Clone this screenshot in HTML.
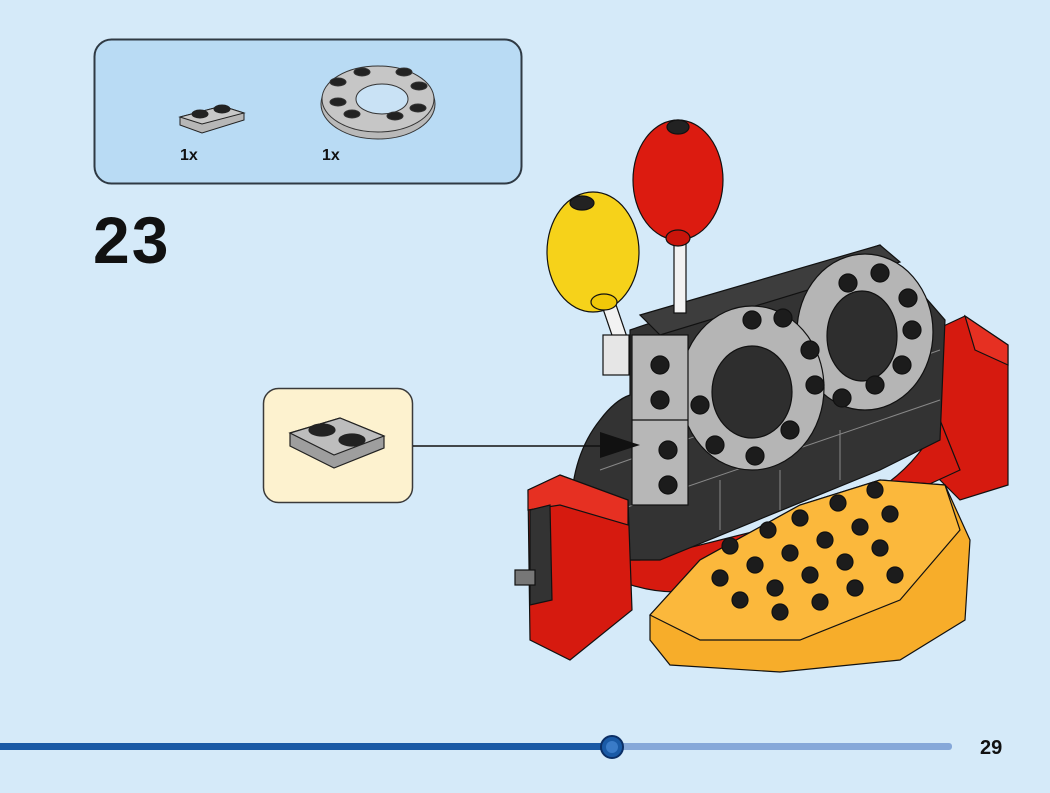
<!DOCTYPE html>
<html><head><meta charset="utf-8"><style>
html,body{margin:0;padding:0;width:1050px;height:793px;overflow:hidden;background:#d5eaf9;font-family:"Liberation Sans",sans-serif}
</style></head><body>
<svg width="1050" height="793" viewBox="0 0 1050 793" xmlns="http://www.w3.org/2000/svg">
<rect width="1050" height="793" fill="#d5eaf9"/>
<!-- parts box -->
<rect x="94.5" y="39.5" width="427" height="144" rx="17" fill="#b9dbf4" stroke="#2f3a44" stroke-width="2"/>
<g stroke="#222" stroke-width="1">
<polygon points="180,117 222,106 244,113 244,120 202,133 180,125" fill="#b7b7b7"/>
<polygon points="180,117 222,106 244,113 202,124" fill="#c8c8c8"/>
<ellipse cx="200" cy="114" rx="8" ry="4" fill="#222"/><ellipse cx="222" cy="109" rx="8" ry="4" fill="#222"/>
</g>
<g stroke="#333" stroke-width="1">
<ellipse cx="378" cy="104" rx="57" ry="35" fill="#b9b9b9"/>
<ellipse cx="378" cy="99" rx="56" ry="33" fill="#c6c6c6"/>
<ellipse cx="382" cy="99" rx="26" ry="15" fill="#c9e2f5"/>
<g fill="#222">
<ellipse cx="362" cy="72" rx="8" ry="4"/><ellipse cx="404" cy="72" rx="8" ry="4"/>
<ellipse cx="338" cy="82" rx="8" ry="4"/><ellipse cx="419" cy="86" rx="8" ry="4"/>
<ellipse cx="338" cy="102" rx="8" ry="4"/><ellipse cx="418" cy="108" rx="8" ry="4"/>
<ellipse cx="352" cy="114" rx="8" ry="4"/><ellipse cx="395" cy="116" rx="8" ry="4"/>
</g></g>
<text x="180" y="160" font-size="16" font-weight="bold" fill="#111">1x</text>
<text x="322" y="160" font-size="16" font-weight="bold" fill="#111">1x</text>
<text x="93" y="263" font-size="66" font-weight="bold" fill="#111" letter-spacing="2">23</text>
<!-- callout -->
<rect x="263.5" y="388.5" width="149" height="114" rx="15" fill="#fdf2cf" stroke="#3a3a3a" stroke-width="1.5"/>
<g stroke="#222" stroke-width="1.2">
<polygon points="290,433 340,418 384,436 384,448 334,468 290,446" fill="#9e9e9e"/>
<polygon points="290,433 340,418 384,436 334,455" fill="#bdbdbd"/>
<ellipse cx="322" cy="430" rx="13" ry="6" fill="#222"/><ellipse cx="352" cy="440" rx="13" ry="6" fill="#222"/>
</g>
<!-- model -->
<g stroke="#111" stroke-width="1.2">
<!-- right red -->
<polygon points="935,330 965,316 1008,345 1008,485 960,500 930,470" fill="#d61a0f"/>
<polygon points="965,316 1008,345 1008,365 975,350" fill="#e63022"/>
<!-- red curve under body -->
<path d="M580,560 Q640,600 700,590 L960,470 L940,420 Q900,500 800,520 L640,560 Z" fill="#d61a0f"/>
<!-- dark body -->
<path d="M630,330 L880,245 L945,320 L940,440 L880,470 L660,560 L575,560 Q560,470 600,420 Q615,400 630,395 Z" fill="#333"/>
<polygon points="640,315 880,245 900,262 660,335" fill="#3d3d3d"/>
<g stroke="#888" stroke-width="1" fill="none">
<line x1="575" y1="525" x2="940" y2="400"/><line x1="600" y1="470" x2="940" y2="350"/>
<line x1="610" y1="505" x2="610" y2="560"/><line x1="720" y1="480" x2="720" y2="530"/><line x1="780" y1="470" x2="780" y2="510"/><line x1="840" y1="430" x2="840" y2="480"/>
</g>
<!-- sticks -->
<rect x="674" y="238" width="12" height="75" fill="#f2f2f2"/>
<polygon points="600,300 613,296 628,340 615,344" fill="#f2f2f2"/>
<rect x="603" y="335" width="26" height="40" fill="#e6e6e6"/>
<!-- balloons -->
<ellipse cx="678" cy="180" rx="45" ry="60" fill="#dc1b10"/>
<ellipse cx="678" cy="127" rx="11" ry="7" fill="#222"/>
<ellipse cx="678" cy="238" rx="12" ry="8" fill="#c9140a"/>
<ellipse cx="593" cy="252" rx="46" ry="60" fill="#f6d21a"/>
<ellipse cx="582" cy="203" rx="12" ry="7" fill="#222"/>
<ellipse cx="604" cy="302" rx="13" ry="8" fill="#f0c808"/>
<!-- rings -->
<ellipse cx="865" cy="332" rx="68" ry="78" fill="#b5b5b5"/>
<ellipse cx="862" cy="336" rx="35" ry="45" fill="#2e2e2e"/>
<ellipse cx="752" cy="388" rx="72" ry="82" fill="#b5b5b5"/>
<ellipse cx="752" cy="392" rx="40" ry="46" fill="#2e2e2e"/>
<g fill="#1c1c1c">
<circle cx="848" cy="283" r="9"/><circle cx="880" cy="273" r="9"/><circle cx="908" cy="298" r="9"/><circle cx="912" cy="330" r="9"/><circle cx="902" cy="365" r="9"/><circle cx="875" cy="385" r="9"/><circle cx="842" cy="398" r="9"/>
<circle cx="752" cy="320" r="9"/><circle cx="783" cy="318" r="9"/><circle cx="810" cy="350" r="9"/><circle cx="815" cy="385" r="9"/><circle cx="790" cy="430" r="9"/><circle cx="755" cy="456" r="9"/><circle cx="715" cy="445" r="9"/><circle cx="700" cy="405" r="9"/>
</g>
<!-- gray plate -->
<rect x="632" y="335" width="56" height="170" fill="#b7b7b7"/>
<line x1="632" y1="420" x2="688" y2="420"/>
<g fill="#1c1c1c"><circle cx="660" cy="365" r="9"/><circle cx="660" cy="400" r="9"/><circle cx="668" cy="450" r="9"/><circle cx="668" cy="485" r="9"/></g>
<!-- left red -->
<polygon points="528,490 560,475 628,500 632,610 570,660 530,640" fill="#d61a0f"/>
<polygon points="560,475 628,500 628,525 560,505 528,510 528,490" fill="#e63022"/>
<polygon points="530,510 550,505 552,600 530,605" fill="#333"/>
<rect x="515" y="570" width="20" height="15" fill="#777"/>
<!-- orange base -->
<polygon points="650,615 700,560 800,505 880,480 945,485 970,540 965,620 900,660 780,672 670,665 650,640" fill="#f7ad2a"/>
<polygon points="650,615 700,560 800,505 880,480 945,485 960,530 900,600 800,640 700,640" fill="#fbb83c"/>
<g fill="#1c1c1c">
<circle cx="720" cy="578" r="8"/><circle cx="755" cy="565" r="8"/><circle cx="790" cy="553" r="8"/><circle cx="825" cy="540" r="8"/><circle cx="860" cy="527" r="8"/><circle cx="890" cy="514" r="8"/>
<circle cx="740" cy="600" r="8"/><circle cx="775" cy="588" r="8"/><circle cx="810" cy="575" r="8"/><circle cx="845" cy="562" r="8"/><circle cx="880" cy="548" r="8"/>
<circle cx="730" cy="546" r="8"/><circle cx="768" cy="530" r="8"/><circle cx="800" cy="518" r="8"/><circle cx="838" cy="503" r="8"/><circle cx="875" cy="490" r="8"/>
<circle cx="780" cy="612" r="8"/><circle cx="820" cy="602" r="8"/><circle cx="855" cy="588" r="8"/><circle cx="895" cy="575" r="8"/>
</g>
</g>
<!-- arrow -->
<line x1="413" y1="446" x2="605" y2="446" stroke="#111" stroke-width="1.5"/>
<polygon points="600,432 640,445 600,458" fill="#111"/>
<!-- progress -->
<rect x="0" y="743" width="612" height="7" fill="#1a5aa6"/>
<rect x="612" y="743" width="340" height="7" rx="3" fill="#86a8d9"/>
<circle cx="612" cy="747" r="11" fill="#1a5aa6" stroke="#0b2f66" stroke-width="2"/>
<circle cx="612" cy="747" r="6" fill="#3a7bc8"/>
<text x="980" y="754" font-size="20" font-weight="bold" fill="#111">29</text>
</svg>
</body></html>
